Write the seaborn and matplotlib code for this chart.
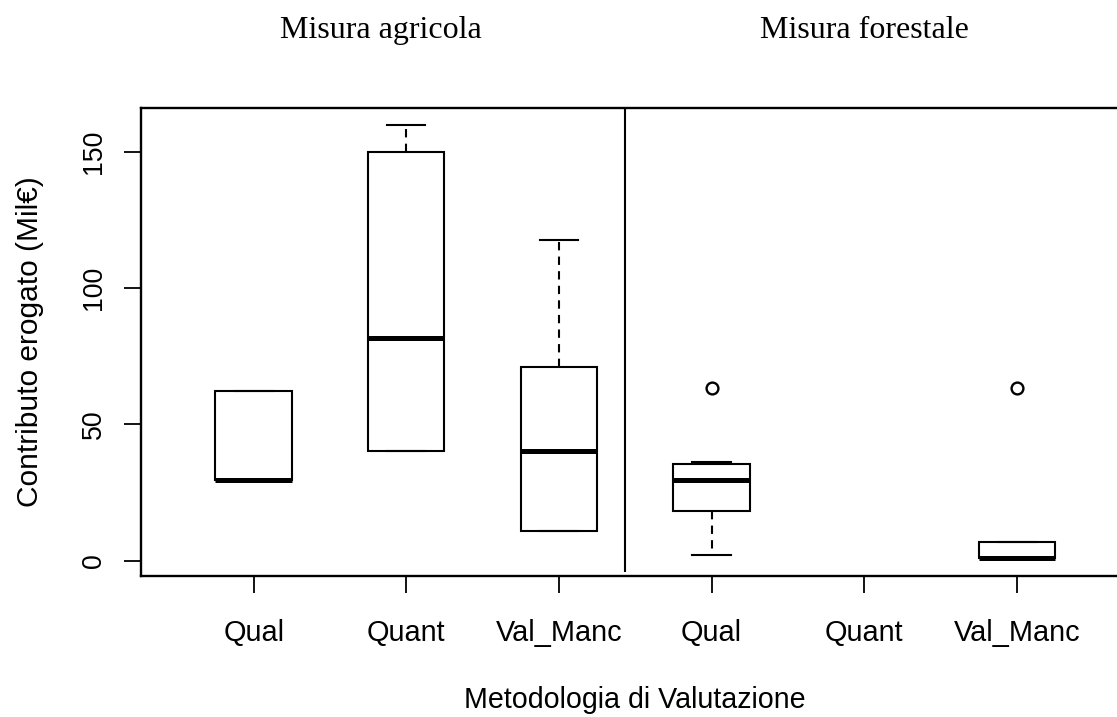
import numpy as np
import pandas as pd
import matplotlib
matplotlib.use("Agg")
import matplotlib.pyplot as plt
import seaborn as sns

# ---- data (Mil€) ----
methods = ["Qual", "Quant", "Val_Manc"]
measures = ["Misura agricola", "Misura forestale"]
agr_qual = [29.4, 29.4, 29.4, 62.3, 62.3]
agr_quant = [40.2, 40.2, 81.6, 149.9, 159.9]
agr_valmanc = [10.8, 10.8, 40.2, 71.0, 117.7]
for_qual = [2.2, 18.2, 18.2, 29.4, 29.4, 35.4, 35.4, 36.2, 63.4]
for_quant = []
for_valmanc = [0.85, 0.85, 0.85, 6.7, 63.4]
y_ticks = [0, 50, 100, 150]

groups = {
    "agr|Qual": agr_qual, "agr|Quant": agr_quant, "agr|Val_Manc": agr_valmanc,
    "for|Qual": for_qual, "for|Quant": for_quant, "for|Val_Manc": for_valmanc,
}
order = list(groups.keys())
rows = [(g, v) for g, vals in groups.items() for v in vals]
df = pd.DataFrame(rows, columns=["grp", "val"])

plt.rcParams["font.family"] = ["Liberation Sans", "DejaVu Sans"]

W, H = 1117, 717
fig = plt.figure(figsize=(W / 100, H / 100), dpi=100)
ax = fig.add_axes([140.7 / W, (H - 575.5) / H, 989.1 / W, 468 / H])

LW = 1.5
sns.boxplot(
    data=df, x="grp", y="val", order=order, ax=ax,
    width=0.5, color="white", linecolor="black", linewidth=LW,
    whis=1.5, fill=True,
    medianprops=dict(linewidth=3.6, color="black", solid_capstyle="butt"),
    whiskerprops=dict(linestyle=(0, (4, 3)), linewidth=LW, color="black"),
    capprops=dict(linewidth=LW, color="black"),
    flierprops=dict(marker="o", markerfacecolor="none", markeredgecolor="black",
                    markersize=8.5, markeredgewidth=1.7),
)

# divider between the two measures
ax.vlines(2.43, -4.3, 170, color="black", linewidth=1.5, clip_on=True)

ax.set_xlim(-0.74, 5.74)
ax.set_ylim(-5.5, 166.4)
ax.set_xticks(range(6))
ax.set_xticklabels(methods * 2, fontsize=20.8)
ax.set_yticks(y_ticks)
ax.set_yticklabels([str(t) for t in y_ticks], fontsize=19.2, rotation=90, va="center")
ax.tick_params(axis="x", length=12, width=1.3, pad=19, direction="out")
ax.tick_params(axis="y", length=12, width=1.3, pad=12, direction="out")
ax.set_xlabel("")
ax.set_ylabel("")
for s in ["left", "bottom", "top"]:
    ax.spines[s].set_linewidth(1.7)
ax.spines["right"].set_visible(False)
ax.grid(False)
ax.set_facecolor("white")

fig.text(381 / W, 1 - 38 / H, measures[0], ha="center", va="baseline",
         fontsize=23, family=["Liberation Serif", "DejaVu Serif"])
fig.text(864 / W, 1 - 38 / H, measures[1], ha="center", va="baseline",
         fontsize=23, family=["Liberation Serif", "DejaVu Serif"])
fig.text(635 / W, (H - 708) / H, "Metodologia di Valutazione", ha="center",
         va="baseline", fontsize=20.6)
fig.text(30 / W, 1 - 342 / H, "Contributo erogato (Mil€)", ha="center",
         va="center", rotation=90, fontsize=21.5)

fig.savefig("out.png", dpi=100, facecolor="white")
